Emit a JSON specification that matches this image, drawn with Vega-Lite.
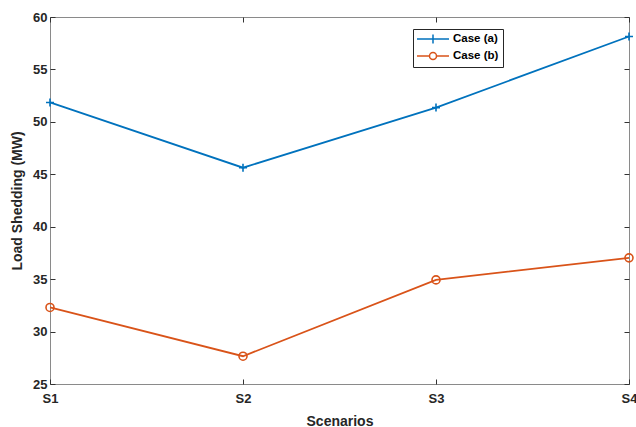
{
  "$schema": "https://vega.github.io/schema/vega-lite/v6.json",
  "width": 579,
  "height": 367,
  "autosize": {"type": "none"},
  "padding": {"left": 50, "top": 17, "right": 7, "bottom": 43},
  "background": "white",
  "config": {
    "view": {"stroke": "#8a8a8a", "strokeWidth": 1},
    "axis": {
      "labelFont": "Liberation Sans",
      "labelFontWeight": "bold",
      "labelFontSize": 13,
      "labelColor": "#262626",
      "titleFont": "Liberation Sans",
      "titleFontWeight": "bold",
      "titleFontSize": 14,
      "titleColor": "#262626",
      "domain": false,
      "grid": false,
      "tickColor": "#333333",
      "tickSize": 5,
      "offset": -5,
      "tickWidth": 1
    },
    "legend": {
      "labelFont": "Liberation Sans",
      "labelFontWeight": "bold",
      "labelFontSize": 11.5,
      "labelColor": "#000000"
    }
  },
  "data": {
    "values": [
      {"Scenario": "S1", "Case": "Case (a)", "value": 51.85},
      {"Scenario": "S2", "Case": "Case (a)", "value": 45.63},
      {"Scenario": "S3", "Case": "Case (a)", "value": 51.36},
      {"Scenario": "S4", "Case": "Case (a)", "value": 58.14},
      {"Scenario": "S1", "Case": "Case (b)", "value": 32.3},
      {"Scenario": "S2", "Case": "Case (b)", "value": 27.65},
      {"Scenario": "S3", "Case": "Case (b)", "value": 34.93},
      {"Scenario": "S4", "Case": "Case (b)", "value": 37.03}
    ]
  },
  "layer": [
    {
      "mark": {"type": "line", "strokeWidth": 1.8},
      "encoding": {
        "x": {"field": "Scenario", "type": "ordinal", "scale": {"type": "point", "padding": 0},
              "axis": {"orient": "bottom", "title": "Scenarios", "labelAngle": 0, "labelPadding": 8, "titlePadding": 9}},
        "y": {"field": "value", "type": "quantitative", "scale": {"domain": [25, 60], "nice": false, "zero": false},
              "axis": {"orient": "left", "title": "Load Shedding (MW)", "values": [25, 30, 35, 40, 45, 50, 55, 60], "labelPadding": 3, "titlePadding": 8}},
        "color": {"field": "Case", "type": "nominal", "scale": {"domain": ["Case (a)", "Case (b)"], "range": ["#0072BD", "#D95319"]}}
      }
    },
    {
      "transform": [{"filter": "datum.Case === 'Case (a)'"}],
      "mark": {"type": "point", "shape": "M-1,0H1M0,-1V1", "size": 64, "filled": false, "strokeWidth": 1.6, "opacity": 1},
      "encoding": {
        "x": {"field": "Scenario", "type": "ordinal", "scale": {"type": "point", "padding": 0},
              "axis": {"orient": "top", "title": null, "labels": false}},
        "y": {"field": "value", "type": "quantitative", "scale": {"domain": [25, 60], "nice": false, "zero": false},
              "axis": {"orient": "right", "title": null, "labels": false, "values": [25, 30, 35, 40, 45, 50, 55, 60]}},
        "color": {"field": "Case", "type": "nominal", "scale": {"domain": ["Case (a)", "Case (b)"], "range": ["#0072BD", "#D95319"]}}
      }
    },
    {
      "transform": [{"filter": "datum.Case === 'Case (b)'"}],
      "mark": {"type": "point", "shape": "circle", "size": 64, "filled": false, "strokeWidth": 1.6, "opacity": 1},
      "encoding": {
        "x": {"field": "Scenario", "type": "ordinal", "scale": {"type": "point", "padding": 0}, "axis": null},
        "y": {"field": "value", "type": "quantitative", "scale": {"domain": [25, 60], "nice": false, "zero": false}, "axis": null},
        "color": {"field": "Case", "type": "nominal", "scale": {"domain": ["Case (a)", "Case (b)"], "range": ["#0072BD", "#D95319"]}}
      }
    },
    {
      "mark": {"type": "point", "filled": false, "opacity": 0, "strokeWidth": 1.5},
      "encoding": {
        "x": {"field": "Scenario", "type": "ordinal", "scale": {"type": "point", "padding": 0}, "axis": null},
        "y": {"field": "value", "type": "quantitative", "scale": {"domain": [25, 60], "nice": false, "zero": false}, "axis": null},
        "color": {"field": "Case", "type": "nominal", "scale": {"domain": ["Case (a)", "Case (b)"], "range": ["#0072BD", "#D95319"]},
                  "legend": {"title": null, "orient": "none", "legendX": 363, "legendY": 12, "padding": 4, "strokeColor": "#262626", "fillColor": "white", "symbolSize": 100, "symbolStrokeWidth": 1.5, "symbolOpacity": 1, "rowPadding": 2, "symbolOffset": 10, "labelOffset": 14}},
        "shape": {"field": "Case", "type": "nominal",
                  "scale": {"domain": ["Case (a)", "Case (b)"], "range": ["M-3.2,0H3.2M0,-0.9V0.9", "M-3.2,0H-0.7M0.7,0H3.2M-0.7,0A0.7,0.7 0 1,0 0.7,0A0.7,0.7 0 1,0 -0.7,0"]},
                  "legend": {"title": null, "orient": "none", "legendX": 363, "legendY": 12, "padding": 4, "strokeColor": "#262626", "fillColor": "white", "symbolSize": 100, "symbolStrokeWidth": 1.5, "symbolOpacity": 1, "rowPadding": 2, "symbolOffset": 10, "labelOffset": 14}}
      }
    }
  ],
  "resolve": {"axis": {"x": "independent", "y": "independent"}}
}
